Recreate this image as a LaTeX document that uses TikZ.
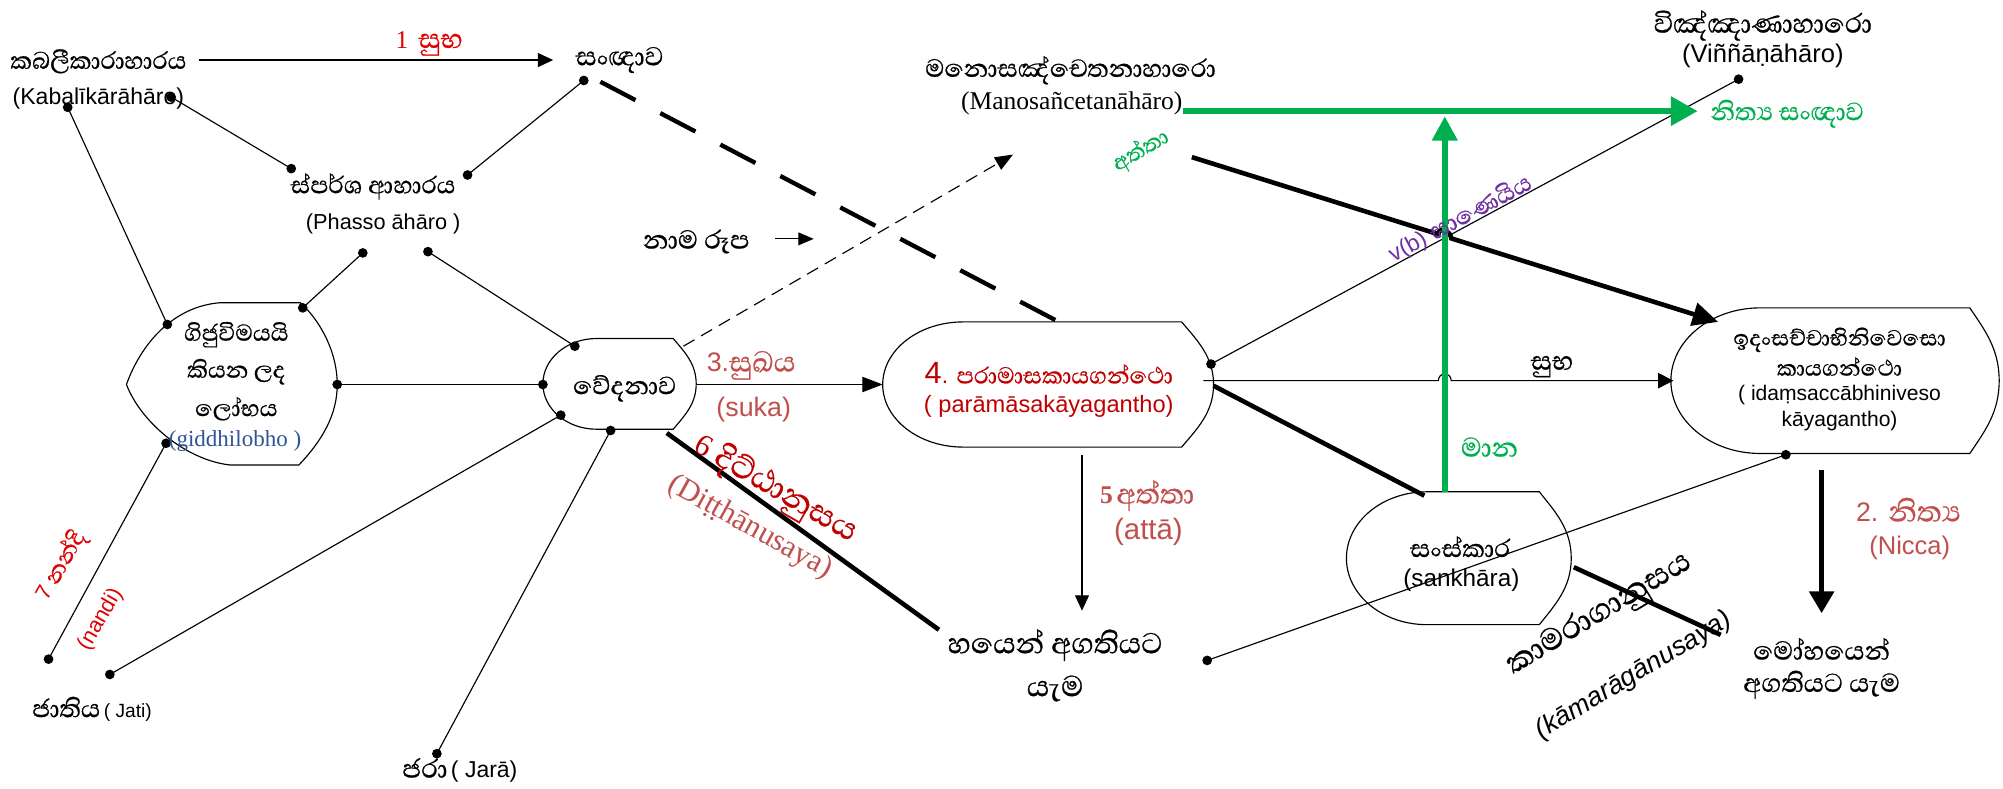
\documentclass[tikz,border=0pt]{standalone}
\usepackage{fontspec}
\setmainfont{Liberation Sans}
\newfontfamily\si[Script=Sinhala,FakeBold=0.6]{Abhaya Libre}
\newfontfamily\tm{Liberation Serif}
\usetikzlibrary{arrows.meta}
\definecolor{dred}{HTML}{C00000}
\definecolor{bred}{HTML}{E00000}
\definecolor{lred}{HTML}{C0504D}
\definecolor{grn}{HTML}{00B050}
\definecolor{purp}{HTML}{7030A0}
\definecolor{gblue}{HTML}{2F5496}
\newcommand\fsz[1]{\fontsize{#1}{#1}\selectfont}
% #1 left extreme, #2 flat left, #3 flat right, #4 right extreme, #5 top, #6 bottom
\newcommand\drawblob[6]{%
 \draw[shp] (#2,#5) -- (#3,#5)
  .. controls ({#3+0.5*(#4-#3)},{#5+0.15*(#6-#5)}) and (#4,{#5+0.28*(#6-#5)}) .. (#4,{0.5*(#5+#6)})
  .. controls (#4,{#6-0.28*(#6-#5)}) and ({#3+0.5*(#4-#3)},{#6-0.15*(#6-#5)}) .. (#3,#6)
  -- (#2,#6)
  .. controls ({#2-0.552*(#2-#1)},#6) and (#1,{0.5*(#5+#6)+0.276*(#6-#5)}) .. (#1,{0.5*(#5+#6)})
  .. controls (#1,{0.5*(#5+#6)-0.276*(#6-#5)}) and ({#2-0.552*(#2-#1)},#5) .. cycle;}
\tikzset{
 ln/.style={line width=0.9pt},
 tk/.style={line width=3.6pt},
 shp/.style={draw, line width=0.9pt, fill=white},
 tx/.style={inner sep=0pt, outer sep=0pt},
}
\begin{document}
\begin{tikzpicture}[x=1pt,y=-1pt]
\useasboundingbox (0,0) rectangle (1568,617);
\fill[white] (0,0) rectangle (1568,617);

% ---------- shapes ----------
\draw[shp] (172,237) -- (235,237) .. controls (250,250) and (264,275) .. (264,301)
  .. controls (264,325) and (252,345) .. (234,364) -- (180,364)
  .. controls (145,360) and (110,330) .. (99,301)
  .. controls (110,270) and (135,240) .. cycle;
\drawblob{425}{467}{527}{545}{265}{336}
\drawblob{691}{754}{925}{950}{252}{350}
\drawblob{1308}{1378}{1542}{1565}{241}{355}
\drawblob{1054}{1117}{1205}{1230}{385}{489}

% ---------- coordinates ----------
\coordinate (kd1) at (53,84);
\coordinate (kd2) at (134,76);
\coordinate (sd1) at (228,132);
\coordinate (sd2) at (366,137);
\coordinate (snd) at (457,63);
\coordinate (pd1) at (284,198);
\coordinate (pd2) at (335,197);
\coordinate (gd1) at (131,254);
\coordinate (gd2) at (237,241);
\coordinate (gd3) at (264,301);
\coordinate (gd4) at (130,347);
\coordinate (vd1) at (450,271);
\coordinate (vd2) at (425,301);
\coordinate (vd3) at (439,325);
\coordinate (vd4) at (478,337);
\coordinate (nd) at (38,516);
\coordinate (jd) at (86,528);
\coordinate (jrd) at (342,590);
\coordinate (prd) at (948,285);
\coordinate (vnd) at (1361,62);
\coordinate (idd) at (1398,356);
\coordinate (bhd) at (945,517);

\coordinate (a1s) at (156,47);   \coordinate (a1e) at (433,47);
\coordinate (tdS) at (470,64);   \coordinate (tdE) at (827,251);
\coordinate (ndS) at (535,271);  \coordinate (ndE) at (793,121);
\coordinate (namaS) at (607,187); \coordinate (namaE) at (637,187);
\coordinate (a3s) at (545,301);  \coordinate (a3e) at (691,301);
\coordinate (gS) at (926,87);    \coordinate (gE) at (1329,87);
\coordinate (gvS) at (1131,385); \coordinate (gvE) at (1131,91);
\coordinate (atS) at (933,123);  \coordinate (atE) at (1345,252);
\coordinate (hA1) at (1126,183.4); \coordinate (hA2) at (1136,186.6);
\coordinate (suS) at (942,298);  \coordinate (suE) at (1310,298);
\coordinate (hS1) at (1126,298); \coordinate (hS2) at (1136,298);
\coordinate (psS) at (950,302);  \coordinate (psE) at (1115,388);
\coordinate (dtS) at (522,339);  \coordinate (dtE) at (735,493);
\coordinate (skS) at (1232,444); \coordinate (skE) at (1347,497);
\coordinate (a5s) at (847,356);  \coordinate (a5e) at (847,478);
\coordinate (ncS) at (1426,368); \coordinate (ncE) at (1426,480);

% ---------- thin connectors ----------
\draw[ln] (kd2) -- (sd1);
\draw[ln] (sd2) -- (snd);
\draw[ln] (kd1) -- (gd1);
\draw[ln] (pd1) -- (gd2);
\draw[ln] (pd2) -- (vd1);
\draw[ln] (gd3) -- (vd2);
\draw[ln] (gd4) -- (nd);
\draw[ln] (jd) -- (vd3);
\draw[ln] (jrd) -- (vd4);
\draw[ln] (prd) -- (vnd);
\draw[ln] (bhd) -- (idd);
\draw[ln,-{Triangle[length=12pt,width=11pt]}] (a1s) -- (a1e);
\draw[ln,-{Triangle[length=12pt,width=10pt]}] (namaS) -- (namaE);
\draw[ln,-{Triangle[length=16pt,width=12pt]}] (a3s) -- (a3e);
\draw[ln,-{Triangle[length=12pt,width=11pt]}] (a5s) -- (a5e);
\draw[ln,-{Triangle[length=12pt,width=12pt]}] (suS) -- (hS1) .. controls +(0,-7) and +(0,-7) .. (hS2) -- (suE);
\draw[ln,dash pattern=on 10pt off 6pt,-{Triangle[length=14pt,width=11pt]}] (ndS) -- (ndE);

% ---------- thick connectors ----------
\draw[line width=3.4pt,dash pattern=on 31pt off 22pt] (tdS) -- (tdE);
\draw[tk] (psS) -- (psE);
\draw[tk] (dtS) -- (dtE);
\draw[tk] (skS) -- (skE);
\draw[tk,-{Triangle[length=17pt,width=19pt]}] (ncS) -- (ncE);
\draw[tk,-{Triangle[length=20pt,width=18pt]}] (atS) -- (hA1) .. controls +(0,-6) and +(0,-6) .. (hA2) -- (atE);

% ---------- green ----------
\draw[grn,line width=4.7pt,-{Triangle[length=21pt,width=22pt]}] (gS) -- (gE);
\draw[grn,line width=4.7pt,-{Triangle[length=19pt,width=19pt]}] (gvS) -- (gvE);

% ---------- dots ----------
\foreach \c in {kd1,kd2,sd1,sd2,snd,pd1,pd2,gd1,gd2,gd3,gd4,vd1,vd2,vd3,vd4,nd,jd,jrd,prd,vnd,idd,bhd}
  \fill (\c) circle[radius=3.8];

% ---------- texts ----------
\node[tx] (kab1) at (77,48) {\si\fsz{24}කබලීකාරාහාරය};
\node[tx] (kab2) at (77,77) {\fsz{18}(Kabalīkārāhāro)};
\node[tx,text=bred] (one) at (336,34) {{\tm\fsz{20}1}\hspace{8pt}{\si\fsz{27}සුභ}};
\node[tx] (sanna) at (485,47) {\si\fsz{26}සංඥාව};
\node[tx] (spa) at (292,146) {\si\fsz{24}ස්පර්ශ ආහාරය};
\node[tx] (pha) at (300,175) {\fsz{17}(Phasso āhāro )};
\node[tx] (g1) at (185,262) {\si\fsz{23}ගිජුවිමයයි};
\node[tx] (g2) at (185,291) {\si\fsz{23}කියන ලද};
\node[tx] (g3) at (185,320) {\si\fsz{23}ලෝභය};
\node[tx,text=gblue] (g4) at (184,345) {\tm\fsz{18}(giddhilobho )};
\node[tx] (ved) at (489,304) {\si\fsz{25}වේදනාව};
\node[tx] (nama) at (545,189) {\si\fsz{26}නාම රූප};
\node[tx,text=lred] (s3) at (588,286) {{\fsz{21}3.}{\si\fsz{28}සුඛය}};
\node[tx,text=lred] (suka) at (590,321) {\fsz{21}(suka)};
\node[tx,text=dred] (p1) at (821,292) {{\fsz{24}4}{\fsz{18}. }{\si\fsz{23}පරාමාසකායගන්ථො}};
\node[tx,text=dred] (p2) at (821,318) {\fsz{18.5}( parāmāsakāyagantho)};
\node[tx] (m1) at (838,55) {\si\fsz{25}මනොසඤ්චෙතනාහාරො};
\node[tx] (m2) at (839,81) {\tm\fsz{20}(Manosañcetanāhāro)};
\node[tx] (v1) at (1380,20) {\si\fsz{27}විඤ්ඤාණාහාරො};
\node[tx] (v2) at (1380,44) {\fsz{20}(Viññāṇāhāro)};
\node[tx,text=grn] (nit) at (1399,89) {\si\fsz{25}නිත්‍ය සංඥාව};
\node[tx,text=grn,rotate=30] (gatta) at (893,118) {\si\fsz{22}අත්තා};
\node[tx,text=purp,rotate=28] (vb) at (1143,171) {{\fsz{18}v(b) }{\si\fsz{24}ඝාණෙයිය}};
\node[tx] (subha) at (1215,287) {\si\fsz{26}සුභ};
\node[tx] (i1) at (1440,266) {\si\fsz{22}ඉදංසච්චාභිනිවෙසො};
\node[tx] (i2) at (1440,287) {\si\fsz{22}කායගන්ථො};
\node[tx] (i3) at (1440,309) {\fsz{16.5}( idaṃsaccābhiniveso};
\node[tx] (i4) at (1440,330) {\fsz{16.5}kāyagantho)};
\node[tx,text=grn] (mana) at (1166,350) {\si\fsz{27}මාන};
\node[tx,text=lred] (five) at (898,388) {{\tm\bfseries\fsz{20}5} {\si\fsz{28}අත්තා}};
\node[tx,text=lred] (atta) at (899,416) {\fsz{23}(attā)};
\node[tx,text=lred] (two) at (1494,399) {{\fsz{21}2. }{\si\fsz{29}නිත්‍ය}};
\node[tx,text=lred] (nicca) at (1495,429) {\fsz{20}(Nicca)};
\node[tx] (sk1) at (1143,428) {\si\fsz{25}සංස්කාර};
\node[tx] (sk2) at (1144,454) {\fsz{19}(sankhāra)};
\node[tx,text=dred,rotate=-30] (six) at (607,383) {{\tm\fsz{24}6 }{\si\fsz{32}දිට්ඨානුසය}};
\node[tx,text=lred,rotate=-29] (dit) at (587,413) {\tm\fsz{24}(Diṭṭhānusaya)};
\node[tx,rotate=31] (kama) at (1252,481) {\si\fsz{31}කාමරාගානුසය};
\node[tx,rotate=31] (kama2) at (1279,529) {\itshape\fsz{21}(kāmarāgānusaya)};
\node[tx] (bh1) at (826,505) {\si\fsz{29}හයෙන් අගතියට};
\node[tx] (bh2) at (826,539) {\si\fsz{29}යැම};
\node[tx] (mo1) at (1426,508) {\si\fsz{26}මෝහයෙන්};
\node[tx] (mo2) at (1426,536) {\si\fsz{26}අගතියට යැම};
\node[tx] (jati) at (72,555) {{\si\fsz{25}ජාතිය} {\fsz{15}( Jati)}};
\node[tx] (jara) at (360,603) {{\si\fsz{26}ජරා} {\fsz{18}( Jarā)}};
\node[tx,text=bred,rotate=60] (n1) at (48,443) {{\fsz{17}7 }{\si\fsz{23}නන්දි}};
\node[tx,text=bred,rotate=60] (n2) at (79,485) {\fsz{17}(nandi)};
\end{tikzpicture}
\end{document}
